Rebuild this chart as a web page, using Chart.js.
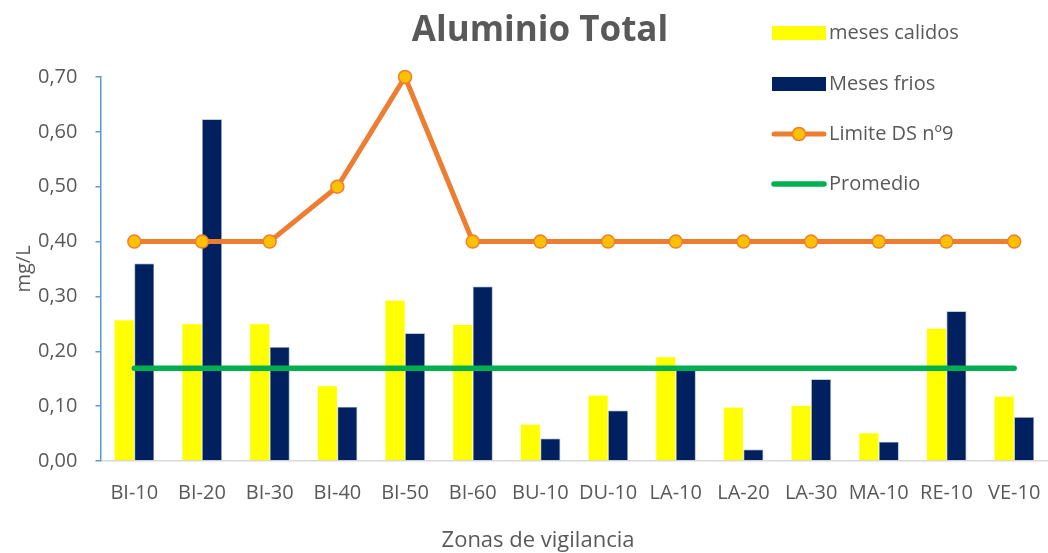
<!DOCTYPE html>
<html>
<head>
<meta charset="utf-8">
<title>Aluminio Total</title>
<script src="https://cdn.jsdelivr.net/npm/chart.js@4.4.1/dist/chart.umd.min.js"></script>
<style>
  html, body { margin: 0; padding: 0; background: #fff; }
  #wrap { width: 1048px; height: 553px; position: relative; }
</style>
</head>
<body>
<div id="wrap"><canvas id="c" width="1048" height="553"></canvas></div>
<script>
const zonas = ['BI-10','BI-20','BI-30','BI-40','BI-50','BI-60','BU-10','DU-10','LA-10','LA-20','LA-30','MA-10','RE-10','VE-10'];
const mesesCalidos = [0.257, 0.250, 0.250, 0.137, 0.293, 0.249, 0.067, 0.120, 0.190, 0.098, 0.101, 0.051, 0.242, 0.118];
const mesesFrios   = [0.360, 0.623, 0.208, 0.099, 0.233, 0.318, 0.041, 0.092, 0.167, 0.021, 0.149, 0.035, 0.273, 0.080];
const limiteDS9    = [0.40, 0.40, 0.40, 0.50, 0.70, 0.40, 0.40, 0.40, 0.40, 0.40, 0.40, 0.40, 0.40, 0.40];
const promedio     = [0.169, 0.169, 0.169, 0.169, 0.169, 0.169, 0.169, 0.169, 0.169, 0.169, 0.169, 0.169, 0.169, 0.169];
const yTicks = [0, 0.1, 0.2, 0.3, 0.4, 0.5, 0.6, 0.7];

const FONT = "'Open Sans', 'DejaVu Sans', sans-serif";
const TEXT = '#595959';
const AXIS_BLUE = '#5B9BD5';

// Title, x-axis caption and legend drawn by hand so they sit where the layout wants them
const decorations = {
  id: 'decorations',
  afterDraw(chart) {
    const ctx = chart.ctx;
    ctx.save();
    ctx.fillStyle = TEXT;
    ctx.textAlign = 'center';
    ctx.textBaseline = 'middle';
    ctx.font = "bold 35px " + FONT;
    ctx.fillText('Aluminio Total', 540, 31);

    ctx.font = "22px " + FONT;
    ctx.fillText('Zonas de vigilancia', 538, 541);

    const ds = chart.data.datasets;
    const rows = [33, 84, 134, 184];
    const x0 = 772, x1 = 826;
    ctx.font = "20px " + FONT;
    ctx.textAlign = 'left';
    ds.forEach((d, i) => {
      const y = rows[i];
      if (d.type === 'bar') {
        ctx.fillStyle = d.backgroundColor;
        ctx.fillRect(x0, y - 7, x1 - x0, 14);
      } else {
        ctx.strokeStyle = d.borderColor;
        ctx.lineWidth = d.borderWidth;
        ctx.lineCap = 'round';
        ctx.beginPath();
        ctx.moveTo(x0 + 2, y);
        ctx.lineTo(x1 - 2, y);
        ctx.stroke();
        if (d.pointRadius > 0) {
          ctx.beginPath();
          ctx.arc((x0 + x1) / 2, y, d.pointRadius, 0, Math.PI * 2);
          ctx.fillStyle = d.pointBackgroundColor;
          ctx.fill();
          ctx.lineWidth = d.pointBorderWidth;
          ctx.strokeStyle = d.pointBorderColor;
          ctx.stroke();
        }
      }
      ctx.fillStyle = TEXT;
      ctx.fillText(d.label, x1 + 3, y);
    });
    ctx.restore();
  }
};

new Chart(document.getElementById('c'), {
  data: {
    labels: zonas,
    datasets: [
      {
        type: 'bar', label: 'meses calidos', data: mesesCalidos,
        backgroundColor: '#FFFF00', borderColor: '#FFFF66', borderWidth: 0.5,
        categoryPercentage: 0.59, barPercentage: 1.0, order: 3
      },
      {
        type: 'bar', label: 'Meses frios', data: mesesFrios,
        backgroundColor: '#002060', borderColor: '#8FA3C4', borderWidth: 0.8,
        categoryPercentage: 0.59, barPercentage: 1.0, order: 4
      },
      {
        type: 'line', label: 'Limite DS nº9', data: limiteDS9,
        borderColor: '#ED7D31', borderWidth: 5, tension: 0,
        pointRadius: 6.5, pointBackgroundColor: '#FFC000',
        pointBorderColor: '#ED7D31', pointBorderWidth: 1.5,
        pointHoverRadius: 6.5, order: 1, clip: false
      },
      {
        type: 'line', label: 'Promedio', data: promedio,
        borderColor: '#00B050', borderWidth: 5.5, borderCapStyle: 'round',
        pointRadius: 0, tension: 0, order: 2, clip: false
      }
    ]
  },
  options: {
    responsive: false,
    animation: false,
    layout: { autoPadding: false, padding: { top: 77, right: 0, left: 12, bottom: 28 } },
    plugins: {
      legend: { display: false },
      title: { display: false },
      tooltip: { enabled: false }
    },
    scales: {
      x: {
        grid: { display: false, drawTicks: false },
        border: { color: '#D9D9D9', width: 1.5 },
        ticks: { color: TEXT, font: { family: FONT, size: 20 }, padding: 20, maxRotation: 0, autoSkip: false },
        // let the category band run to the right edge of the canvas
        afterFit(scale) { scale.paddingRight = 0; scale.paddingLeft = 0; }
      },
      y: {
        min: 0, max: 0.7,
        afterBuildTicks(axis) { axis.ticks = yTicks.map(v => ({ value: v })); },
        grid: { drawOnChartArea: false, drawTicks: true, tickLength: 5, color: AXIS_BLUE, lineWidth: 1.5 },
        border: { color: AXIS_BLUE, width: 1.5 },
        ticks: {
          color: TEXT, font: { family: FONT, size: 20 }, padding: 18,
          callback: v => v.toFixed(2).replace('.', ',')
        },
        title: { display: true, text: 'mg/L', color: TEXT,
                 font: { family: FONT, size: 20 }, padding: { top: 0, bottom: -16 } }
      }
    }
  },
  plugins: [decorations]
});
</script>
</body>
</html>
